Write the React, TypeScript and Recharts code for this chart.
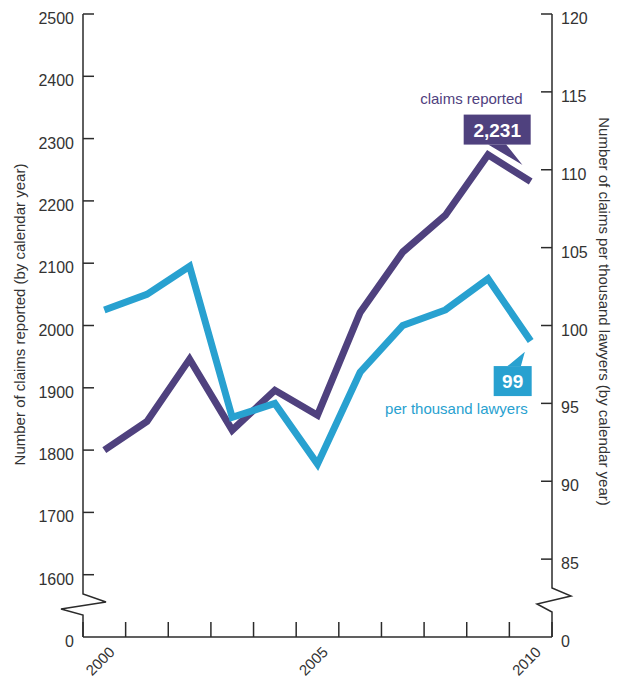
import React from "react";
import {
  LineChart,
  Line,
  XAxis,
  YAxis,
  LabelList,
} from "recharts";

const years = [2000, 2001, 2002, 2003, 2004, 2005, 2006, 2007, 2008, 2009, 2010];
const claimsReported = [1800, 1846, 1946, 1832, 1896, 1856, 2021, 2118, 2177, 2274, 2231];
const claimsPerThousand = [101, 102, 103.8, 94.1, 95, 91.1, 97, 100, 101, 103, 99];

const leftTicks = [1500, 1600, 1700, 1800, 1900, 2000, 2100, 2200, 2300, 2400, 2500];
const rightTicks = [80, 85, 90, 95, 100, 105, 110, 115, 120];
const xTicks = [1999.5, 2000.5, 2001.5, 2002.5, 2003.5, 2004.5, 2005.5, 2006.5, 2007.5, 2008.5, 2009.5, 2010.5];
const labelledYears = [2000, 2005, 2010];

const data = years.map((year, i) => ({
  year,
  reported: claimsReported[i],
  perThousand: claimsPerThousand[i],
}));

const FONT = '"Liberation Sans", Arial, sans-serif';
const AXIS = "#2b2b2b";
const TEXT = "#333333";
const PURPLE = "#4f417e";
const BLUE = "#28a1d0";

const LeftTick = (props: any) => {
  const { x, y, payload } = props;
  const v = payload.value;
  const isBreak = v === leftTicks[0];
  return (
    <g>
      {!isBreak && <line x1={x} x2={x + 11} y1={y} y2={y} stroke={AXIS} strokeWidth={1.5} />}
      <text x={x - 9} y={y} dy={10} textAnchor="end" fontSize={16} fill={TEXT} fontFamily={FONT}>
        {isBreak ? "0" : v}
      </text>
    </g>
  );
};

const RightTick = (props: any) => {
  const { x, y, payload } = props;
  const v = payload.value;
  const isBreak = v === rightTicks[0];
  return (
    <g>
      {!isBreak && <line x1={x} x2={x - 11} y1={y} y2={y} stroke={AXIS} strokeWidth={1.5} />}
      <text x={x + 9} y={y} dy={10} textAnchor="start" fontSize={16} fill={TEXT} fontFamily={FONT}>
        {isBreak ? "0" : v}
      </text>
    </g>
  );
};

const YearTick = (props: any) => {
  const { x, y, payload } = props;
  const yr = Math.floor(payload.value);
  const showLabel = payload.value !== xTicks[0] && labelledYears.includes(yr);
  const lx = x - 10;
  const ly = y + 16;
  return (
    <g>
      <line x1={x} x2={x} y1={y} y2={y - 15} stroke={AXIS} strokeWidth={1.5} />
      {showLabel && (
        <text
          x={lx}
          y={ly}
          textAnchor="end"
          fontSize={15}
          fill={TEXT}
          fontFamily={FONT}
          transform={`rotate(-45 ${lx} ${ly})`}
        >
          {yr}
        </text>
      )}
    </g>
  );
};

// axis line with the zig-zag break + title
const LeftAxisDecor = (props: any) => {
  const { viewBox } = props;
  const ax = viewBox.x + viewBox.width;
  const top = viewBox.y;
  const bot = viewBox.y + viewBox.height;
  const cy = top + viewBox.height / 2 - 11;
  const d = `M${ax},${top} L${ax},${bot - 43} L${ax + 23},${bot - 35} L${ax - 22},${bot - 28} L${ax},${bot - 22} L${ax},${bot}`;
  return (
    <g>
      <path d={d} fill="none" stroke={AXIS} strokeWidth={1.5} />
      <text
        x={25}
        y={cy}
        textAnchor="middle"
        fontSize={15}
        fill={TEXT}
        fontFamily={FONT}
        transform={`rotate(-90 25 ${cy})`}
      >
        Number of claims reported (by calendar year)
      </text>
    </g>
  );
};

const RightAxisDecor = (props: any) => {
  const { viewBox } = props;
  const ax = viewBox.x;
  const top = viewBox.y;
  const bot = viewBox.y + viewBox.height;
  const cy = top + viewBox.height / 2 - 14;
  const tx = ax + 47;
  const d = `M${ax},${top} L${ax},${bot - 49} L${ax + 19},${bot - 41} L${ax - 15},${bot - 33} L${ax},${bot - 25} L${ax},${bot}`;
  return (
    <g>
      <path d={d} fill="none" stroke={AXIS} strokeWidth={1.5} />
      <text
        x={tx}
        y={cy}
        textAnchor="middle"
        fontSize={15}
        fill={TEXT}
        fontFamily={FONT}
        transform={`rotate(90 ${tx} ${cy})`}
      >
        Number of claims per thousand lawyers (by calendar year)
      </text>
    </g>
  );
};

const lastIndex = years.length - 1;

const ReportedCallout = (props: any) => {
  const { x, y, index, value } = props;
  if (index !== lastIndex) return null;
  return (
    <g fontFamily={FONT}>
      <text x={x - 8} y={y - 78} textAnchor="end" fontSize={15} fill={PURPLE}>
        claims reported
      </text>
      <polygon
        points={`${x - 46},${y - 38} ${x - 24},${y - 38} ${x - 4},${y - 13}`}
        fill={PURPLE}
        stroke="#fff"
        strokeWidth={2}
      />
      <rect x={x - 67} y={y - 67} width={67} height={30} fill={PURPLE} />
      <text x={x - 33.5} y={y - 45} textAnchor="middle" fontSize={19} fontWeight="bold" fill="#fff">
        {value.toLocaleString("en-US")}
      </text>
    </g>
  );
};

const PerThousandCallout = (props: any) => {
  const { x, y, index, value } = props;
  if (index !== lastIndex) return null;
  return (
    <g fontFamily={FONT}>
      <polygon
        points={`${x - 26},${y + 26} ${x - 9},${y + 26} ${x - 4},${y + 8}`}
        fill={BLUE}
        stroke="#fff"
        strokeWidth={2}
      />
      <rect x={x - 37} y={y + 25} width={38} height={30} fill={BLUE} />
      <text x={x - 18} y={y + 47} textAnchor="middle" fontSize={19} fontWeight="bold" fill="#fff">
        {value}
      </text>
      <text x={x - 3} y={y + 73} textAnchor="end" fontSize={15} fill={BLUE}>
        per thousand lawyers
      </text>
    </g>
  );
};

export default function App() {
  return (
    <div style={{ position: "absolute", left: 0, top: 0, background: "#fff" }}>
      <LineChart width={618} height={681} data={data} margin={{ top: 14, right: 0, bottom: 0, left: 0 }}>
        <XAxis
          dataKey="year"
          type="number"
          domain={[1999.5, 2010.5]}
          ticks={xTicks}
          interval={0}
          allowDataOverflow
          height={44}
          tickSize={0}
          tickMargin={0}
          tickLine={false}
          axisLine={{ stroke: AXIS, strokeWidth: 1.5 }}
          tick={<YearTick />}
        />
        <YAxis
          yAxisId="left"
          orientation="left"
          domain={[1500, 2500]}
          ticks={leftTicks}
          interval={0}
          allowDataOverflow
          width={83}
          tickSize={0}
          tickMargin={0}
          tickLine={false}
          axisLine={false}
          tick={<LeftTick />}
          label={{ content: LeftAxisDecor }}
        />
        <YAxis
          yAxisId="right"
          orientation="right"
          domain={[80, 120]}
          ticks={rightTicks}
          interval={0}
          allowDataOverflow
          width={66}
          tickSize={0}
          tickMargin={0}
          tickLine={false}
          axisLine={false}
          tick={<RightTick />}
          label={{ content: RightAxisDecor }}
        />
        <Line
          yAxisId="left"
          dataKey="reported"
          stroke={PURPLE}
          strokeWidth={7}
          strokeLinejoin="miter"
          dot={false}
          activeDot={false}
          isAnimationActive={false}
        >
          <LabelList dataKey="reported" content={ReportedCallout} />
        </Line>
        <Line
          yAxisId="right"
          dataKey="perThousand"
          stroke={BLUE}
          strokeWidth={7}
          strokeLinejoin="miter"
          dot={false}
          activeDot={false}
          isAnimationActive={false}
        >
          <LabelList dataKey="perThousand" content={PerThousandCallout} />
        </Line>
      </LineChart>
    </div>
  );
}
